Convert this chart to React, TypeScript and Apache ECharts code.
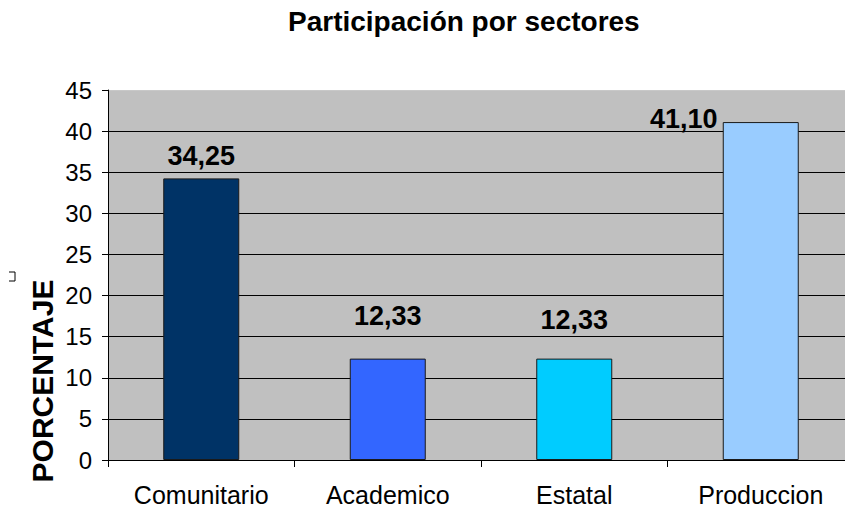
import React, { useEffect, useRef } from "react";
import * as echarts from "echarts";

const TITLE = "Participación por sectores";
const Y_NAME = "PORCENTAJE";
const categories = ["Comunitario", "Academico", "Estatal", "Produccion"];
const values = [34.25, 12.33, 12.33, 41.1];
const valueLabels = ["34,25", "12,33", "12,33", "41,10"];
const barColors = ["#003366", "#3366FF", "#00CCFF", "#99CCFF"];
const labelOffsets = [[0, -9], [0, -29], [0, -25], [-77, 10]];

export default function App() {
  const ref = useRef<HTMLDivElement>(null);
  useEffect(() => {
    if (!ref.current) return;
    const chart = echarts.init(ref.current, null, { renderer: "svg" });
    const splitColors = ["#000", "#000", "#000", "#000", "#000", "#000", "#000", "#000", "#000", "#C8C8C8"];
    chart.setOption({
      animation: false,
      backgroundColor: "#ffffff",
      textStyle: { fontFamily: "Liberation Sans, Arial, sans-serif" },
      graphic: [
        {
          type: "text",
          left: 464 - 176,
          top: 7,
          style: {
            text: TITLE,
            font: "bold 28px 'Liberation Sans', Arial, sans-serif",
            fill: "#000",
          },
        },
        {
          type: "text",
          x: 42,
          y: 381,
          rotation: Math.PI / 2,
          style: {
            text: Y_NAME,
            font: "bold 30px 'Liberation Sans', Arial, sans-serif",
            fill: "#000",
            align: "center",
            verticalAlign: "middle",
          },
        },
        {
          type: "polyline",
          shape: { points: [[9, 272], [15, 272], [15, 281], [9, 281]] },
          style: { stroke: "#000", lineWidth: 1, fill: "none" },
        },
      ],
      grid: {
        left: 108,
        top: 90,
        width: 746,
        height: 373,
        show: true,
        backgroundColor: "#C0C0C0",
        borderWidth: 0,
      },
      xAxis: {
        type: "category",
        data: categories,
        axisLine: { lineStyle: { color: "#000", width: 1 } },
        axisTick: { show: true, length: 7, lineStyle: { color: "#000" } },
        axisLabel: {
          color: "#000",
          fontSize: 25,
          margin: 22,
          fontFamily: "Liberation Sans, Arial, sans-serif",
        },
      },
      yAxis: {
        type: "value",
        min: 0,
        max: 45,
        interval: 5,
        axisLine: { show: true, lineStyle: { color: "#000", width: 1 } },
        axisTick: { show: true, length: 6, lineStyle: { color: "#000" } },
        axisLabel: {
          color: "#000",
          fontSize: 24,
          margin: 16,
          fontFamily: "Liberation Sans, Arial, sans-serif",
        },
        splitLine: { show: true, lineStyle: { color: splitColors, width: 1 } },
      },
      series: [
        {
          type: "bar",
          barWidth: 76,
          data: values.map((v, i) => ({
            value: v,
            itemStyle: { color: barColors[i], borderColor: "#1a1a1a", borderWidth: 1 },
            label: {
              show: true,
              position: "top",
              distance: 0,
              offset: labelOffsets[i],
              formatter: valueLabels[i],
              fontSize: 27,
              fontWeight: "bold",
              color: "#000",
              fontFamily: "Liberation Sans, Arial, sans-serif",
            },
          })),
        },
      ],
    });
    return () => chart.dispose();
  }, []);
  return (
    <div
      ref={ref}
      style={{ position: "fixed", left: 0, top: 0, width: 870, height: 507 }}
    />
  );
}
